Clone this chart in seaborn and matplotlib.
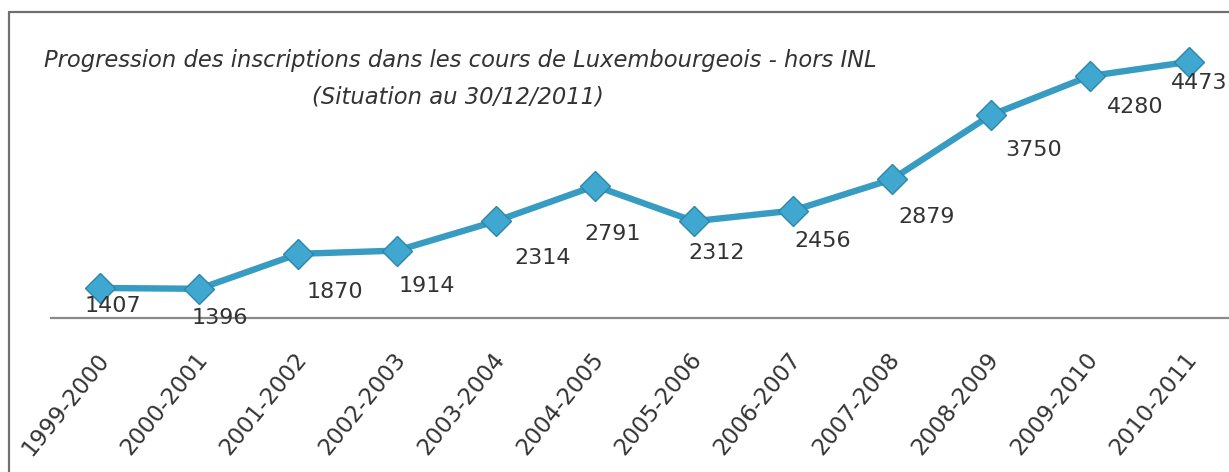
import matplotlib
matplotlib.use("Agg")
import matplotlib.pyplot as plt
from matplotlib.lines import Line2D
from matplotlib.transforms import ScaledTranslation
import seaborn as sns
import pandas as pd

annees = ["1999-2000", "2000-2001", "2001-2002", "2002-2003", "2003-2004", "2004-2005",
          "2005-2006", "2006-2007", "2007-2008", "2008-2009", "2009-2010", "2010-2011"]
inscriptions = [1407, 1396, 1870, 1914, 2314, 2791, 2312, 2456, 2879, 3750, 4280, 4473]
titre1 = "Progression des inscriptions dans les cours de Luxembourgeois - hors INL"
titre2 = "(Situation au 30/12/2011)"

# label nudges in pixels (right, down) -- layout only
label_dx = [12, 20, 37, 30, 47, 18, 23, 30, 35, 43, 46, 11]
label_dy = [18, 29, 38, 35, 37, 48, 32, 30, 38, 35, 31, 21]

sns.set_theme(style="white")
plt.rcParams['font.family'] = ['DejaVu Sans']

W, H = 1229, 472
fig = plt.figure(figsize=(W / 100, H / 100), dpi=100)
fig.patch.set_facecolor("white")

ax_left, ax_right, ax_bottom, ax_top = 51, 1238, 318, 23
ax = fig.add_axes([ax_left / W, 1 - ax_bottom / H, (ax_right - ax_left) / W, (ax_bottom - ax_top) / H])
ax.set_facecolor("none")

df = pd.DataFrame({"annee": annees, "inscrits": inscriptions})
line_col = "#389cc2"
sns.lineplot(data=df, x="annee", y="inscrits", sort=False, ax=ax, color=line_col,
             linewidth=4.6, marker="D", markersize=15.5, markerfacecolor="#40a8d0",
             markeredgecolor="#2c87aa", markeredgewidth=1.0, clip_on=False)

ax.set_xlim(-0.5, len(annees) - 0.5)
ax.set_ylim(1000, 5000)
ax.set_xlabel("")
ax.set_ylabel("")
ax.set_yticks([])
for s in ["top", "right", "left"]:
    ax.spines[s].set_visible(False)
ax.spines["bottom"].set_color("#8a8a8a")
ax.spines["bottom"].set_linewidth(1.6)

ax.set_xticks(range(len(annees)))
ax.set_xticklabels(annees, rotation=51, ha="right", va="center", rotation_mode="anchor",
                   fontsize=16.5, color="#333333")
ax.tick_params(axis="x", length=0, pad=27)
off = ScaledTranslation(3 / 72, 0, fig.dpi_scale_trans)
for lab in ax.get_xticklabels():
    lab.set_transform(lab.get_transform() + off)

for i, v in enumerate(inscriptions):
    ax.annotate(str(v), xy=(i, v), xytext=(label_dx[i], -label_dy[i]), textcoords="offset pixels",
                ha="center", va="center", fontsize=16, color="#333333", annotation_clip=False)

fig.text(460 / W, 1 - 60 / H, titre1, ha="center", va="center", fontsize=16.3,
         style="italic", color="#333333")
fig.text(458 / W, 1 - 97 / H, titre2, ha="center", va="center", fontsize=16.3,
         style="italic", color="#333333")

frame_col = "#707070"
fig.add_artist(Line2D([9 / W, 9 / W], [0, 1 - 12 / H], color=frame_col, linewidth=1.6,
                      transform=fig.transFigure))
fig.add_artist(Line2D([9 / W, 1], [1 - 12 / H, 1 - 12 / H], color=frame_col, linewidth=1.6,
                      transform=fig.transFigure))

fig.savefig("out.png", dpi=100, facecolor="white")
